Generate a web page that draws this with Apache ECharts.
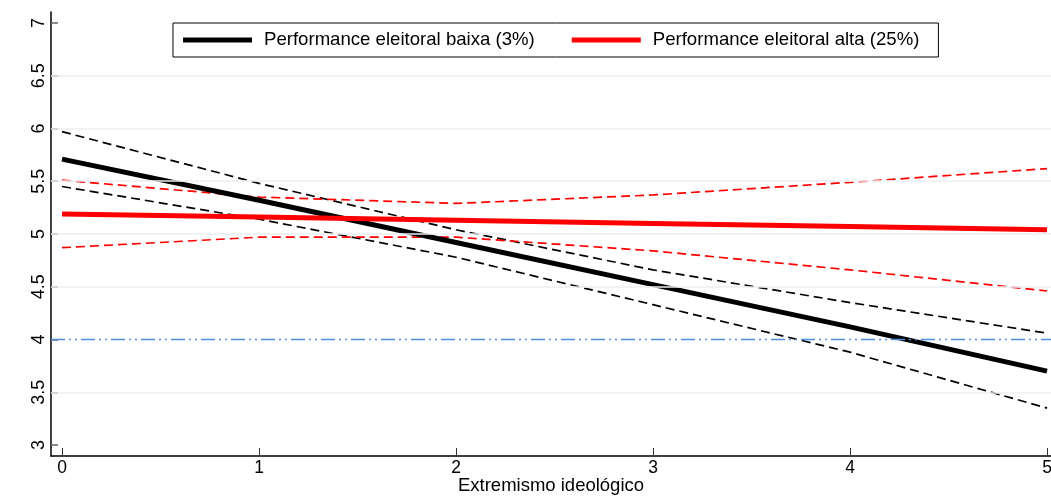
<!DOCTYPE html>
<html><head><meta charset="utf-8">
<script src="https://cdn.jsdelivr.net/npm/echarts@6/dist/echarts.min.js"></script>
<style>html,body{margin:0;padding:0;background:#fff}#c{width:1051px;height:497px}</style>
</head><body><div id="c"></div>
<script>
const xValues = [0, 1, 2, 3, 4, 5];
const lowMean  = [5.71, 5.32, 4.92, 4.52, 4.12, 3.70];
const lowUpper = [5.97, 5.48, 5.04, 4.66, 4.35, 4.06];
const lowLower = [5.45, 5.14, 4.78, 4.33, 3.88, 3.35];
const highMean  = [5.19, 5.16, 5.13, 5.10, 5.07, 5.04];
const highUpper = [5.51, 5.35, 5.29, 5.37, 5.49, 5.62];
const highLower = [4.87, 4.97, 4.97, 4.84, 4.66, 4.46];
const xTicks = [0, 1, 2, 3, 4, 5];
const yTicks = [3, 3.5, 4, 4.5, 5, 5.5, 6, 6.5, 7];
const gridValues = [3.5, 4.5, 5, 5.5, 6, 6.5];
const refValue = 4;
const seriesNames = ['Performance eleitoral baixa (3%)', 'Performance eleitoral alta (25%)'];
const xTitle = 'Extremismo ideológico';

const FONT = '"Liberation Sans", Arial, sans-serif';
const pairs = ys => xValues.map((x, i) => [x, ys[i]]);
const dashed = (name, ys, color) => ({
  name, type: 'line', data: pairs(ys), symbol: 'none', silent: true,
  lineStyle: { color, width: 1.7, type: [9, 5] }, z: 3
});

const chart = echarts.init(document.getElementById('c'), null, { renderer: 'canvas' });
chart.setOption({
  animation: false,
  backgroundColor: '#ffffff',
  grid: { left: 51, top: 12, right: 0, bottom: 41, containLabel: false, outerBoundsMode: 'none' },
  legend: {
    data: seriesNames,
    left: 173, top: 23,
    orient: 'horizontal',
    icon: 'rect', itemWidth: 69, itemHeight: 5, itemGap: 37,
    padding: [7, 19, 7, 10],
    borderColor: '#000', borderWidth: 1,
    selectedMode: false,
    textStyle: { fontFamily: FONT, fontSize: 18.6, color: '#000', lineHeight: 20, padding: [0, 0, 0, 7] }
  },
  xAxis: {
    type: 'value', min: -0.056, max: 5.02,
    name: xTitle, nameLocation: 'middle', nameGap: 20, nameMoveOverlap: false,
    nameTextStyle: { fontFamily: FONT, fontSize: 18.5, color: '#000', verticalAlign: 'top' },
    axisLine: { show: true, onZero: false, lineStyle: { color: '#000', width: 1.5 } },
    axisTick: { show: true, inside: true, length: 8, customValues: xTicks, lineStyle: { color: '#333', width: 1 } },
    axisLabel: { show: true, customValues: xTicks, margin: 3, fontFamily: FONT, fontSize: 17.5, color: '#000', formatter: v => String(v) },
    splitLine: { show: false }
  },
  yAxis: {
    type: 'value', min: 2.896, max: 7.104,
    axisLine: { show: true, onZero: false, lineStyle: { color: '#000', width: 1.5 } },
    axisTick: { show: true, inside: true, length: 7, customValues: yTicks, lineStyle: { color: '#666', width: 1.5 } },
    axisLabel: { show: true, customValues: yTicks, rotate: 90, margin: 3, fontFamily: FONT, fontSize: 18, color: '#000', formatter: v => String(v) },
    splitLine: { show: false }
  },
  series: [
    {
      name: 'grid', type: 'line', data: [], silent: true,
      markLine: {
        silent: true, symbol: ['none', 'none'], label: { show: false },
        lineStyle: { color: '#eaeff3', width: 1.5, type: 'solid' },
        data: gridValues.map(v => ({ yAxis: v }))
      }, z: 1
    },
    {
      name: 'ref', type: 'line', data: [], silent: true,
      markLine: {
        silent: true, symbol: ['none', 'none'], label: { show: false },
        lineStyle: { color: '#4d8fdc', width: 1.3, type: [14, 4, 2, 4, 2, 4] },
        data: [{ yAxis: refValue }]
      }, z: 2
    },
    dashed('lowUpper', lowUpper, '#000'),
    dashed('lowLower', lowLower, '#000'),
    { name: seriesNames[0], type: 'line', data: pairs(lowMean), symbol: 'none', lineStyle: { color: '#000', width: 5 }, itemStyle: { color: '#000' }, z: 4 },
    dashed('highUpper', highUpper, '#ff0000'),
    dashed('highLower', highLower, '#ff0000'),
    { name: seriesNames[1], type: 'line', data: pairs(highMean), symbol: 'none', lineStyle: { color: '#ff0000', width: 5 }, itemStyle: { color: '#ff0000' }, z: 5 }
  ]
});
</script>
</body></html>
